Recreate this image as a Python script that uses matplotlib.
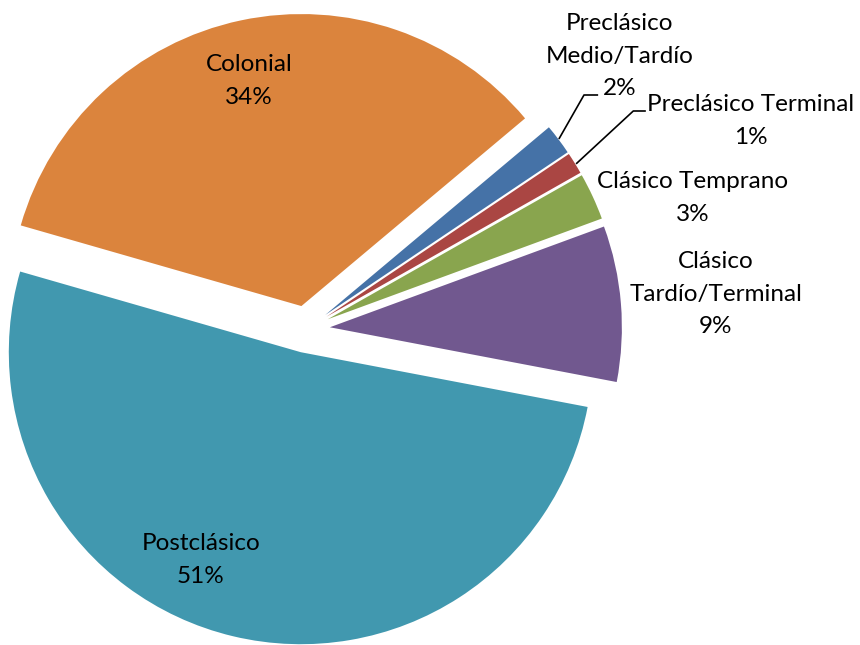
import matplotlib
matplotlib.use("Agg")
import matplotlib.pyplot as plt

categories = ["Preclásico\nMedio/Tardío", "Preclásico Terminal", "Clásico Temprano",
              "Clásico\nTardío/Terminal", "Postclásico", "Colonial"]
values = [1.7, 1.2, 2.6, 8.6, 51.4, 34.4]
colors = ["#4572A7", "#AA4643", "#89A54E", "#71588F", "#4198AF", "#DB843D"]

W, H = 860, 645
CX, CY, R = 306.3, 329.2, 292.0

def d(px, py):
    return ((px - CX) / R, (CY - py) / R)

plt.rcParams['font.family'] = ['Lato', 'DejaVu Sans']
fig = plt.figure(figsize=(W / 100, H / 100), dpi=100)
ax = fig.add_axes([0, 0, 1, 1])
ax.pie(values, colors=colors, startangle=40, counterclock=False,
       explode=[0.081] * len(values), radius=1.0,
       wedgeprops=dict(linewidth=0))
ax.set_xlim(-CX / R, (W - CX) / R)
ax.set_ylim(-(H - CY) / R, CY / R)
ax.set_aspect('auto')
ax.axis('off')

label_px = [(620, 56), (751, 121), (693, 198), (716, 294), (201, 560), (249, 81)]
for cat, v, (px, py) in zip(categories, values, label_px):
    x, y = d(px, py)
    ax.text(x, y, f"{cat}\n{round(v)}%", ha='center', va='center', fontsize=17.5,
            linespacing=1.68, color='black')

leaders = [[(559.3, 138.3), (584, 95), (597.3, 95)],
           [(576.7, 163.3), (633.3, 111), (645, 111)]]
for pts in leaders:
    xs, ys = zip(*[d(p[0], p[1]) for p in pts])
    ax.plot(xs, ys, color='black', linewidth=1.2)

fig.savefig("out.png", dpi=100)
